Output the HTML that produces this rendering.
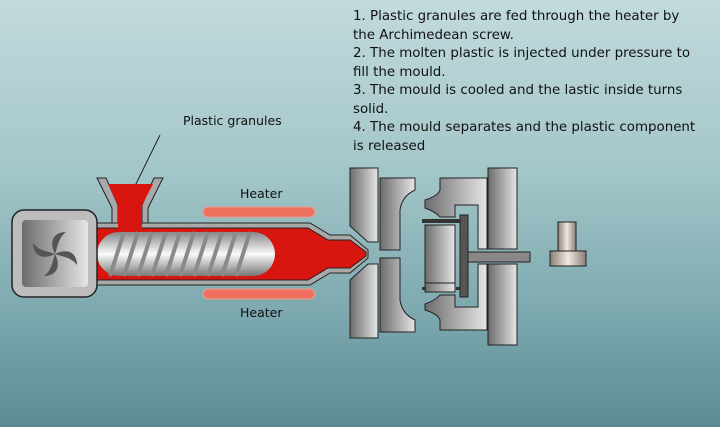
<!DOCTYPE html>
<html><head><meta charset="utf-8"><style>
html,body{margin:0;padding:0;width:720px;height:427px;overflow:hidden}
body{background:linear-gradient(180deg,#c2dadc 0%,#a3c6c9 40%,#7aa7ad 75%,#5b8b92 100%)}
.t{position:absolute;left:353px;top:8px;font-family:"DejaVu Sans","Liberation Sans",sans-serif;font-size:13.4px;line-height:18.5px;color:#111;width:370px;white-space:nowrap}
svg{position:absolute;left:0;top:0}
</style></head><body>
<div class="t">1. Plastic granules are fed through the heater by<br>the Archimedean screw.<br>2. The molten plastic is injected under pressure to<br>fill the mould.<br>3. The mould is cooled and the lastic inside turns<br>solid.<br>4. The mould separates and the plastic component<br>is released</div>
<svg width="720" height="427" viewBox="0 0 720 427">
<defs>
<linearGradient id="g" x1="0" x2="1"><stop offset="0" stop-color="#6c6c6c"/><stop offset="0.6" stop-color="#b5b5b5"/><stop offset="1" stop-color="#e6e6e6"/></linearGradient>
<linearGradient id="gv" x1="0" y1="0" x2="0" y2="1"><stop offset="0" stop-color="#888"/><stop offset="0.5" stop-color="#fafafa"/><stop offset="1" stop-color="#777"/></linearGradient>
<linearGradient id="gp" x1="0" x2="1"><stop offset="0" stop-color="#8a7e74"/><stop offset="0.5" stop-color="#efe8e2"/><stop offset="1" stop-color="#8a7e74"/></linearGradient>
</defs>
<g font-family="DejaVu Sans, Liberation Sans, sans-serif" font-size="12.5" fill="#111">
<text x="183" y="125">Plastic granules</text>
<text x="240" y="198">Heater</text>
<text x="240" y="317">Heater</text>
</g>
<line x1="160" y1="135" x2="133" y2="190" stroke="#222" stroke-width="1"/>
<rect x="203" y="207" width="112" height="10" rx="5" fill="#f07060" stroke="#e9a090"/>
<rect x="203" y="289" width="112" height="10" rx="5" fill="#f07060" stroke="#e9a090"/>
<path d="M97 223 H310 L330 235 H350 L368 250 V258 L350 273 H330 L310 285 H97 Z" fill="#a9a9a9" stroke="#222"/>
<path d="M97 228 H308 L328 240 H350 L366 252 V256 L350 268 H328 L308 280 H97 Z" fill="#d9150f" stroke="#222"/>
<path d="M97 178 H106 L118 205 V223 H112 V208 Z" fill="#a9a9a9" stroke="#222"/>
<path d="M163 178 H154 L142 205 V223 H148 V208 Z" fill="#a9a9a9" stroke="#222"/>
<path d="M108 184 H153 L142 205 V229 H118 V205 Z" fill="#d9150f"/>
<rect x="97" y="232" width="178" height="44" rx="22" fill="url(#gv)"/>
<g stroke="#8a8a8a" stroke-width="4" fill="none">
<path d="M110 276 L124 232 M124 276 L138 232 M138 276 L152 232 M152 276 L166 232 M166 276 L180 232 M180 276 L194 232 M194 276 L208 232 M208 276 L222 232 M222 276 L236 232 M236 276 L250 232"/>
</g>
<rect x="12" y="210" width="85" height="87" rx="12" fill="#bdbdbd" stroke="#222" stroke-width="1.5"/>
<rect x="22" y="220" width="66" height="67" rx="4" fill="url(#g)"/>
<g fill="#555"><path d="M55 254 C48 240 55 232 66 232 C58 238 58 246 55 254Z"/><path d="M55 254 C69 247 77 254 77 265 C71 257 63 257 55 254Z"/><path d="M55 254 C62 268 55 276 44 276 C52 270 52 262 55 254Z"/><path d="M55 254 C41 261 33 254 33 243 C39 251 47 251 55 254Z"/></g>
<path d="M350 168 H378 V242 H368 L350 226 Z" fill="url(#g)" stroke="#222"/>
<path d="M350 338 H378 V264 H368 L350 280 Z" fill="url(#g)" stroke="#222"/>
<path d="M380 178 H415 V190 Q402 196 400 210 V250 H380 Z" fill="url(#g)" stroke="#222"/>
<path d="M380 332 H415 V320 Q402 314 400 300 V258 H380 Z" fill="url(#g)" stroke="#222"/>
<path d="M440 178 H487 V249 H478 V205 H455 V217 H440 Q436 212 425 208 V200 Q438 196 440 190 Z" fill="url(#g)" stroke="#222"/>
<path d="M440 330 H487 V264 H478 V307 H455 V295 H440 Q436 300 425 304 V310 Q438 314 440 320 Z" fill="url(#g)" stroke="#222"/>
<rect x="425" y="225" width="30" height="67" fill="url(#g)" stroke="#222"/>
<line x1="425" y1="283" x2="455" y2="283" stroke="#222"/>
<rect x="488" y="168" width="29" height="81" fill="url(#g)" stroke="#222"/>
<rect x="488" y="264" width="29" height="81" fill="url(#g)" stroke="#222"/>
<rect x="468" y="252" width="62" height="10" fill="#888" stroke="#222"/>
<rect x="460" y="215" width="8" height="82" fill="#555" stroke="#222"/>
<rect x="422" y="219" width="38" height="4" fill="#333"/>
<rect x="422" y="287" width="4" height="3" fill="#333"/>
<rect x="456" y="287" width="4" height="3" fill="#333"/>
<rect x="558" y="222" width="18" height="29" fill="url(#gp)" stroke="#222"/>
<rect x="550" y="251" width="36" height="15" fill="url(#gp)" stroke="#222"/>
</svg>
</body></html>
